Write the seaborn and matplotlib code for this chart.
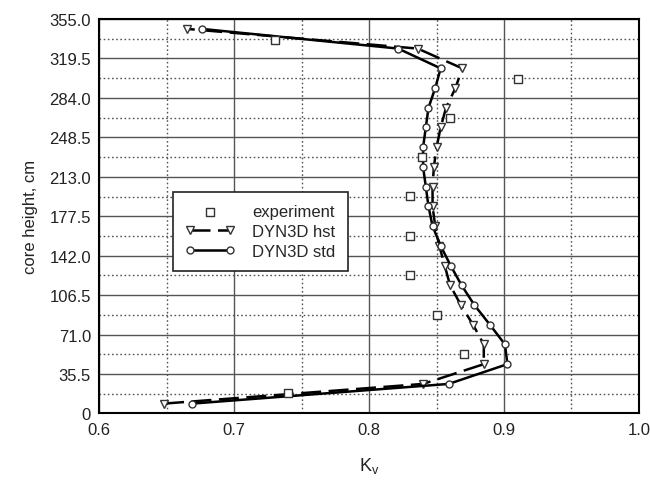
import matplotlib
matplotlib.use("Agg")
import matplotlib.pyplot as plt
import seaborn as sns
from matplotlib.ticker import MultipleLocator, FixedLocator

# Axial power profile: relative power K_v versus core height
height_sim = [8.9, 26.6, 44.4, 62.1, 79.9, 97.6, 115.4, 133.1, 150.9, 168.6,
              186.4, 204.1, 221.9, 239.6, 257.4, 275.1, 292.9, 310.6, 328.4, 346.1]
kv_hst = [0.648, 0.840, 0.885, 0.885, 0.877, 0.868, 0.860, 0.856, 0.852, 0.849,
          0.847, 0.847, 0.848, 0.850, 0.853, 0.857, 0.864, 0.869, 0.836, 0.665]
kv_std = [0.669, 0.859, 0.9025, 0.9007, 0.8895, 0.878, 0.8685, 0.8604, 0.853, 0.847,
          0.844, 0.842, 0.840, 0.840, 0.842, 0.844, 0.849, 0.853, 0.8215, 0.676]

height_exp = [18.5, 53.5, 89.0, 124.3, 159.5, 195.5, 230.7, 266.0, 301.3, 336.0]
kv_exp = [0.740, 0.870, 0.850, 0.830, 0.830, 0.830, 0.839, 0.860, 0.910, 0.730]

y_ticks = [0, 35.5, 71.0, 106.5, 142.0, 177.5, 213.0, 248.5, 284.0, 319.5, 355.0]
y_tick_labels = ["0", "35.5", "71.0", "106.5", "142.0", "177.5", "213.0",
                 "248.5", "284.0", "319.5", "355.0"]
x_ticks = [0.6, 0.7, 0.8, 0.9, 1.0]
x_tick_labels = ["0.6", "0.7", "0.8", "0.9", "1.0"]

sns.set_style("white")
plt.rcParams["font.family"] = ["Liberation Sans", "DejaVu Sans"]
plt.rcParams["mathtext.fontset"] = "custom"
plt.rcParams["mathtext.rm"] = "Liberation Sans"
plt.rcParams["mathtext.it"] = "Liberation Sans"

fig = plt.figure(figsize=(6.5, 4.81), dpi=100)
ax = fig.add_axes([0.1528, 0.1383, 0.983 - 0.1528, 0.9584 - 0.1383])

# grid: solid major lines, dotted minor lines
ax.set_xlim(0.6, 1.0)
ax.set_ylim(0, 355)
ax.xaxis.set_major_locator(FixedLocator(x_ticks))
ax.yaxis.set_major_locator(FixedLocator(y_ticks))
ax.xaxis.set_minor_locator(MultipleLocator(0.05))
ax.yaxis.set_minor_locator(MultipleLocator(17.75))
ax.grid(which="major", color="#555555", linestyle="-", linewidth=1.0)
ax.grid(which="minor", color="#555555", linestyle=(0, (1.2, 1.8)), linewidth=1.0)
ax.set_axisbelow(True)

sns.scatterplot(x=kv_exp, y=height_exp, ax=ax, marker="s", s=30,
                facecolor="white", edgecolor="#333333", linewidth=1.0,
                label="experiment", zorder=4)
sns.lineplot(x=kv_hst, y=height_sim, ax=ax, sort=False, estimator=None,
             color="black", linewidth=1.8, linestyle=(0, (8, 3)),
             marker="v", markersize=5.5, markerfacecolor="white",
             markeredgecolor="#333333", markeredgewidth=1.0,
             label="DYN3D hst", zorder=3)
sns.lineplot(x=kv_std, y=height_sim, ax=ax, sort=False, estimator=None,
             color="black", linewidth=1.8, linestyle="-",
             marker="o", markersize=5, markerfacecolor="white",
             markeredgecolor="#333333", markeredgewidth=1.0,
             label="DYN3D std", zorder=3)

ax.set_xticks(x_ticks)
ax.set_xticklabels(x_tick_labels)
ax.set_yticks(y_ticks)
ax.set_yticklabels(y_tick_labels)
ax.tick_params(axis="both", which="both", length=0, labelsize=12, colors="#222222")
ax.tick_params(axis="x", pad=6)
ax.tick_params(axis="y", pad=6)

for side in ["left", "right", "top", "bottom"]:
    ax.spines[side].set_visible(True)
    ax.spines[side].set_color("black")
    ax.spines[side].set_linewidth(1.5)

ax.set_xlabel(r"K$_\mathrm{v}$", fontsize=13, labelpad=13, color="#222222")
ax.set_ylabel("core height, cm", fontsize=12, labelpad=8, color="#222222")

leg = ax.legend(loc="upper left", bbox_to_anchor=(0.136, 0.562), borderaxespad=0,
                fontsize=12, frameon=True, fancybox=False, numpoints=2,
                scatterpoints=1, handlelength=3.0, handletextpad=1.0,
                labelspacing=0.28, borderpad=0.75)
leg.get_frame().set_edgecolor("#222222")
leg.get_frame().set_linewidth(1.2)
leg.get_frame().set_alpha(1.0)

fig.savefig("out.png", dpi=100)
